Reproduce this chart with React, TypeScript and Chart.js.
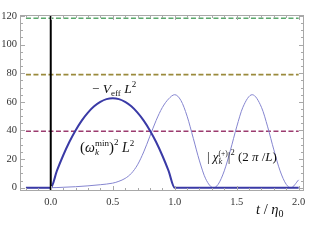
import React, { useEffect, useRef } from "react";
import { Chart, registerables } from "chart.js";

Chart.register(...registerables);

// ---- data ----
const veffT = [-0.2, 0, 0.05, 0.1, 0.15, 0.2, 0.25, 0.3, 0.35, 0.4, 0.45, 0.5, 0.55, 0.6, 0.65, 0.7, 0.75, 0.8, 0.85, 0.9, 0.95, 1.0, 2.0];
const veffV = [0, 0, 11.9, 22.5, 31.9, 40, 46.9, 52.5, 56.9, 60, 61.9, 62.5, 61.9, 60, 56.9, 52.5, 46.9, 40, 31.9, 22.5, 11.9, 0, 0];

const chiT = [-0.2, 0, 0.1, 0.2, 0.3, 0.4, 0.5, 0.55, 0.6, 0.65, 0.7, 0.75, 0.8, 0.85, 0.9, 0.95, 1.0,
  1.05, 1.1, 1.15, 1.2, 1.25, 1.3125, 1.35, 1.4, 1.45, 1.5, 1.55, 1.625, 1.7, 1.75, 1.8, 1.85, 1.9, 1.9375, 2.0];
const chiV = [0, 0, 0.3, 0.7, 1.3, 2.1, 3.2, 4.5, 6.5, 10, 16, 25, 36, 47, 56, 62, 65,
  61, 50, 34.5, 18.7, 6.2, 0, 2.3, 11.8, 26.4, 42.5, 56.2, 65, 56.2, 42.5, 26.4, 11.8, 2.3, 0, 5.5];

const levelValues = [39.5, 79, 118.4];
const levelSpan = [-0.2, 2.0];
const xTickValues = [0, 0.5, 1, 1.5, 2];
const yTickValues = [0, 20, 40, 60, 80, 100, 120];

const X_MIN = -0.248;
const X_MAX = 2.043;
const Y_MIN = -2.3;
const Y_MAX = 120.7;

const levelColors = ["#9b3b6e", "#9a8a3c", "#5aa86c"];

type Seg = { t: string; f: string; dy?: number; adv?: boolean };
const I = (s: number) => `italic ${s}px "Liberation Serif"`;
const N = (s: number) => `${s}px "Liberation Serif"`;

function drawRich(ctx: CanvasRenderingContext2D, x: number, y: number, segs: Seg[]) {
  let cx = x;
  for (const s of segs) {
    ctx.font = s.f;
    ctx.fillText(s.t, cx, y + (s.dy || 0));
    if (s.adv !== false) cx += ctx.measureText(s.t).width;
  }
}

const framePlugin = {
  id: "frameTicks",
  afterDatasetsDraw(chart: any) {
    const { ctx, chartArea: a, scales } = chart;
    const x = scales.x;
    const y = scales.y;
    ctx.save();
    ctx.strokeStyle = "#a8a8a8";
    ctx.lineWidth = 1;
    ctx.strokeRect(a.left + 0.5, a.top + 0.5, a.width - 1, a.height - 1);
    ctx.beginPath();
    for (let i = -2; i <= 20; i++) {
      const v = i / 10;
      if (v < X_MIN || v > X_MAX) continue;
      const px = Math.round(x.getPixelForValue(v)) + 0.5;
      const len = i % 5 === 0 ? 5 : 3;
      ctx.moveTo(px, a.bottom);
      ctx.lineTo(px, a.bottom - len);
      ctx.moveTo(px, a.top);
      ctx.lineTo(px, a.top + len);
    }
    for (let v = 0; v <= 120; v += 5) {
      const py = Math.round(y.getPixelForValue(v)) + 0.5;
      const len = v % 20 === 0 ? 5 : 3;
      ctx.moveTo(a.left, py);
      ctx.lineTo(a.left + len, py);
      ctx.moveTo(a.right, py);
      ctx.lineTo(a.right - len, py);
    }
    ctx.stroke();
    ctx.restore();
  },
  afterDraw(chart: any) {
    const ctx: CanvasRenderingContext2D = chart.ctx;
    ctx.save();
    ctx.fillStyle = "#111111";
    ctx.textBaseline = "alphabetic";
    ctx.textAlign = "left";
    drawRich(ctx, 92, 93, [
      { t: "\u2212", f: N(13) },
      { t: " V", f: I(13.5) },
      { t: "eff", f: N(9), dy: 3 },
      { t: " L", f: I(13.5) },
      { t: "2", f: N(9), dy: -6 },
    ]);
    drawRich(ctx, 80, 152, [
      { t: "(", f: N(15) },
      { t: "\u03c9", f: I(14) },
      { t: "k", f: I(9), dy: 3, adv: false },
      { t: "min", f: N(9), dy: -6 },
      { t: ")", f: N(15) },
      { t: "2", f: N(9), dy: -7 },
      { t: " L", f: I(14) },
      { t: "2", f: N(9), dy: -6 },
    ]);
    drawRich(ctx, 207, 161, [
      { t: "| ", f: N(13) },
      { t: "\u03c7", f: I(13) },
      { t: "k", f: I(8.5), dy: 3, adv: false },
      { t: "(+)", f: N(7.5), dy: -5 },
      { t: "|", f: N(13) },
      { t: "2", f: N(8.5), dy: -6 },
      { t: " (2 ", f: N(13) },
      { t: "\u03c0", f: I(13) },
      { t: " /", f: N(13) },
      { t: "L", f: I(13) },
      { t: ")", f: N(13) },
    ]);
    drawRich(ctx, 256, 214, [
      { t: "t", f: I(14.5) },
      { t: " / ", f: N(14.5) },
      { t: "\u03b7", f: I(14.5) },
      { t: "0", f: N(10), dy: 3 },
    ]);
    ctx.restore();
  },
};

export default function App() {
  const ref = useRef<HTMLCanvasElement | null>(null);
  useEffect(() => {
    if (!ref.current) return;
    const pts = (xs: number[], ys: number[]) => xs.map((v, i) => ({ x: v, y: ys[i] }));
    const levelSets = levelValues.map((lv, i) => ({
      data: levelSpan.map((t) => ({ x: t, y: lv })),
      borderColor: levelColors[i],
      borderWidth: 1.6,
      borderDash: [5, 2.5],
      pointRadius: 0,
      order: 4,
    }));
    const chart = new Chart(ref.current, {
      type: "line",
      data: {
        datasets: [
          {
            data: [{ x: 0, y: Y_MIN - 5 }, { x: 0, y: Y_MAX + 5 }],
            borderColor: "#000000",
            borderWidth: 2,
            pointRadius: 0,
            clip: 0,
            order: 0,
          } as any,
          {
            data: pts(veffT, veffV),
            borderColor: "#3a3aa6",
            borderWidth: 2,
            pointRadius: 0,
            cubicInterpolationMode: "monotone",
            order: 1,
          },
          {
            data: pts(chiT, chiV),
            borderColor: "#8585d0",
            borderWidth: 1,
            pointRadius: 0,
            cubicInterpolationMode: "monotone",
            order: 2,
          },
          ...levelSets,
        ],
      },
      options: {
        animation: false,
        responsive: true,
        maintainAspectRatio: false,
        events: [],
        layout: { padding: { top: 15, right: 18, left: 0, bottom: 0 } },
        plugins: { legend: { display: false }, tooltip: { enabled: false } },
        scales: {
          x: {
            type: "linear",
            min: X_MIN,
            max: X_MAX,
            grid: { display: false, drawTicks: false },
            border: { display: false },
            afterFit: (s: any) => { s.height = 51; },
            afterBuildTicks: (s: any) => { s.ticks = xTickValues.map((v) => ({ value: v })); },
            ticks: {
              padding: 5,
              maxRotation: 0,
              autoSkip: false,
              color: "#333333",
              font: { family: "Liberation Serif", size: 10.5 },
              callback: (v: any) => Number(v).toFixed(1),
            },
          },
          y: {
            type: "linear",
            min: Y_MIN,
            max: Y_MAX,
            grid: { display: false, drawTicks: false },
            border: { display: false },
            afterFit: (s: any) => { s.width = 20; },
            afterBuildTicks: (s: any) => { s.ticks = yTickValues.map((v) => ({ value: v })); },
            ticks: {
              padding: 3,
              autoSkip: false,
              color: "#333333",
              font: { family: "Liberation Serif", size: 10.5 },
              callback: (v: any) => String(Math.round(Number(v))),
            },
          },
        },
      },
      plugins: [framePlugin],
    } as any);
    return () => chart.destroy();
  }, []);
  return (
    <div style={{ position: "fixed", left: 0, top: 0, width: 322, height: 242, background: "#fff" }}>
      <canvas ref={ref} />
    </div>
  );
}
